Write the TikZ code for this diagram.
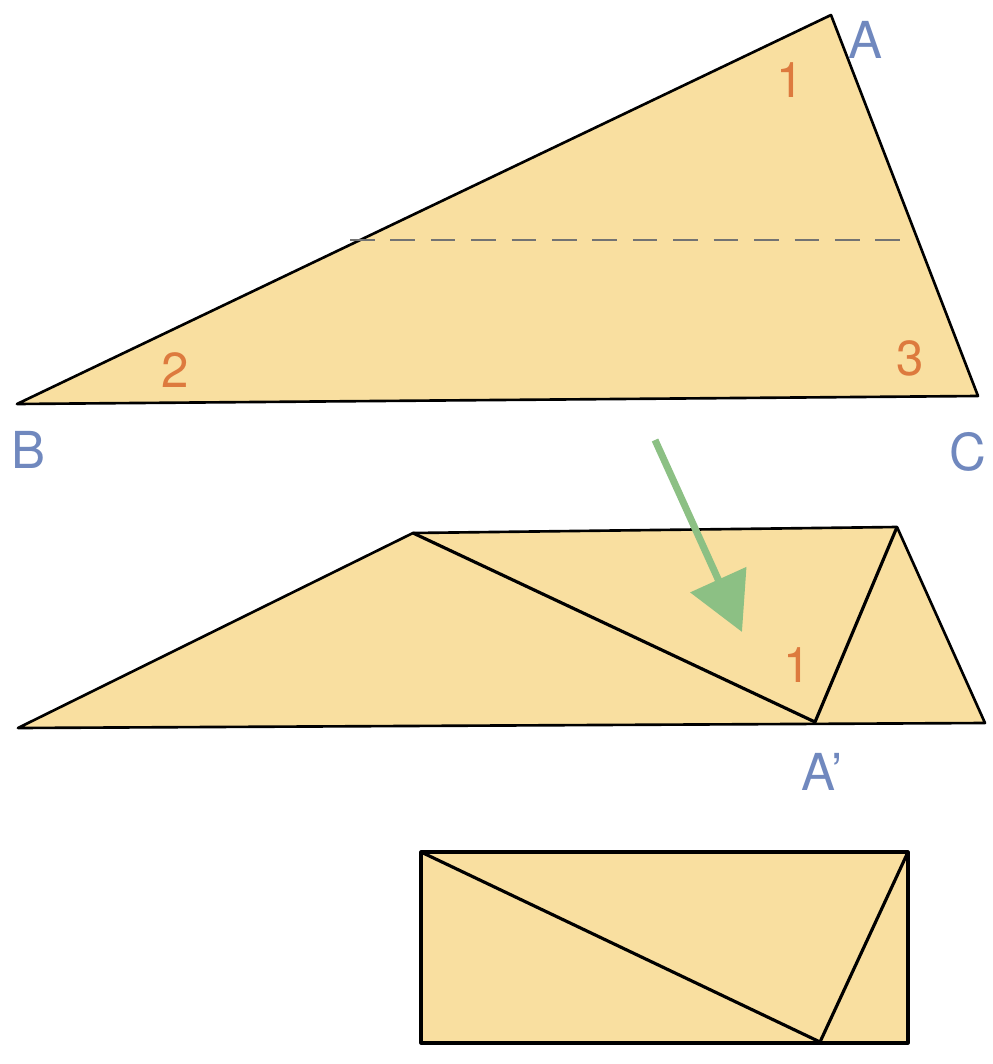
\documentclass[tikz,border=0pt]{standalone}
\usepackage{fontspec}
\setmainfont{TeX Gyre Heros}
\usetikzlibrary{arrows.meta}
\definecolor{papier}{RGB}{249,223,160}
\definecolor{ecke}{RGB}{112,136,190}
\definecolor{winkel}{RGB}{221,122,62}
\definecolor{pfeil}{RGB}{140,192,132}
\tikzset{
  Blatt/.style={fill=papier,draw=black,line width=1.5pt,line join=round}, % Papierflaechen
  Falz/.style={draw=black,line width=1.8pt}, % Faltkanten
  Ecke/.style={text=ecke,font=\fontsize{29}{29}\selectfont}, % Eckpunkte
  Winkel/.style={text=winkel,font=\fontsize{28}{28}\selectfont} % Winkelnummern
}
\begin{document}
\begin{tikzpicture}[x=0.02cm,y=-0.02cm]
\useasboundingbox (0,0) rectangle (992,1064);

%Dreieck oben
\coordinate (A) at (831,15);
\coordinate (B) at (17,404);
\coordinate (C) at (978,396);
\draw[Blatt] (A) -- (B) -- (C) -- cycle;
\coordinate (D1) at (350,240);
\coordinate (D2) at (908,240);
\draw[dashed,dash pattern=on 14pt off 9pt,draw=black!55,line width=1.2pt] (D1) -- (D2);

\node[Ecke] (lA) at (865,40) {A};
\node[Ecke] (lB) at (28,450) {B};
\node[Ecke] (lC) at (968,452) {C};
\node[Winkel] (w1) at (790,80) {1};
\node[Winkel] (w2) at (175,370) {2};
\node[Winkel] (w3) at (910,358) {3};

%Gefaltet
\coordinate (M1) at (18,728);
\coordinate (M2) at (413,533);
\coordinate (M3) at (897,527);
\coordinate (M4) at (985,723);
\coordinate (Ap) at (815,722);
\draw[Blatt] (M1) -- (M2) -- (M3) -- (M4) -- cycle;
\draw[Falz] (M2) -- (Ap) -- (M3);
\node[Winkel] (w1b) at (797,665) {1};
\node[Ecke] (lAp) at (822,772) {A'};

%Pfeil
\coordinate (P1) at (655,440);
\coordinate (P2) at (742,632);
\draw[pfeil,line width=4pt,-{Triangle[width=1.2cm,length=1.15cm]}] (P1) -- (P2);

%Rechteck
\coordinate (R1) at (421,852);
\coordinate (R2) at (908,852);
\coordinate (R3) at (908,1043);
\coordinate (R4) at (421,1043);
\coordinate (Rp) at (820,1042);
\draw[Blatt,line width=1.8pt] (R1) -- (R2) -- (R3) -- (R4) -- cycle;
\draw[Falz] (R1) -- (Rp) -- (R2);

\end{tikzpicture}
\end{document}
